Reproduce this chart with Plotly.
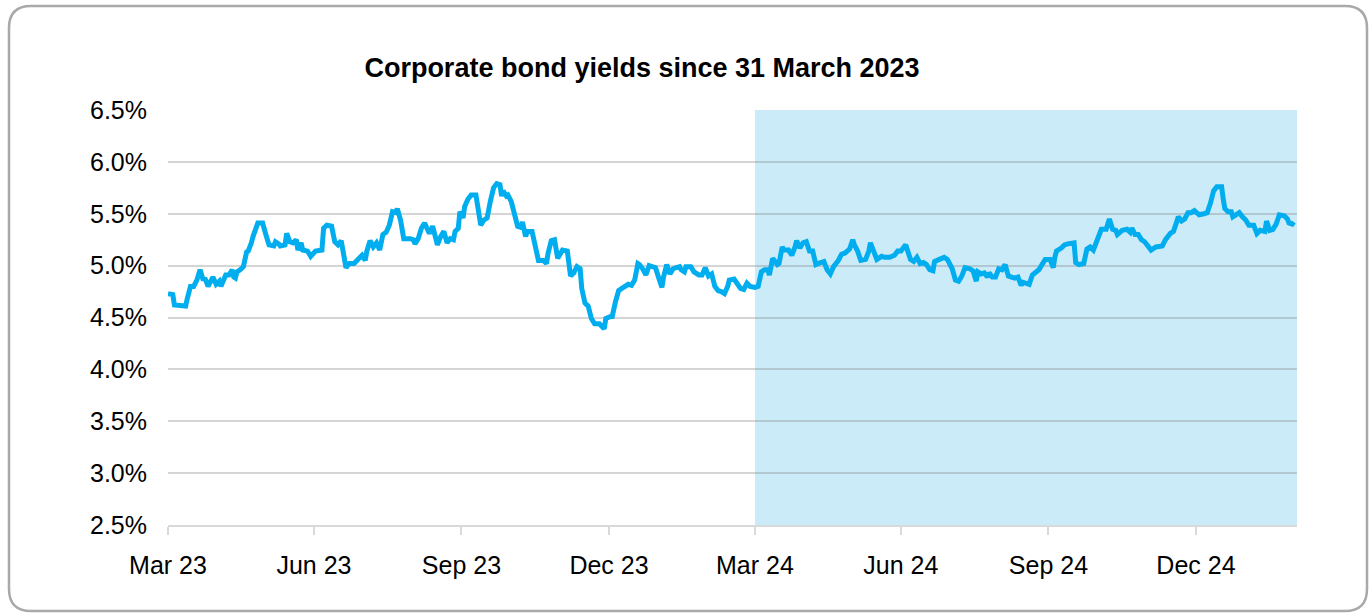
import pandas as pd
import plotly.graph_objects as go

# ---------------- data ----------------
start_date = "2023-03-31"

# days after 31 March 2023
days = [
    0, 3, 4, 11, 12, 14, 16, 18, 20, 22, 23, 25, 28, 30, 32, 33, 36, 38, 40, 41,
    42, 43, 45, 47, 49, 50, 52, 53, 56, 59, 61, 63, 66, 67, 69, 70, 73, 74, 76, 78,
    80, 81, 83, 84, 87, 89, 92, 96, 97, 99, 102, 104, 106, 108, 111, 113, 116, 118, 120,
    121, 123, 124, 126, 128, 130, 132, 134, 136, 138, 140, 142, 143, 145, 147, 151, 153, 154, 156, 158,
    160, 163, 165, 167, 168, 170, 172, 174, 176, 178, 179, 181, 182, 184, 185, 187, 189, 192, 194, 195,
    197, 199, 201, 203, 205, 207, 208, 209, 211, 212, 214, 216, 218, 220, 221, 223, 224, 227, 229, 230,
    231, 234, 236, 237, 239, 241, 243, 246, 249, 251, 253, 255, 257, 258, 260, 262, 264, 266, 269, 272,
    273, 276, 277, 279, 281, 283, 285, 287, 289, 291, 293, 294, 296, 298, 300, 302, 304, 306, 308, 309,
    311, 313, 315, 317, 319, 320, 322, 323, 326, 328, 331, 333, 335, 337, 339, 341, 343, 345, 347, 349,
    350, 353, 355, 357, 359, 361, 363, 366, 368, 370, 372, 374, 375, 377, 380, 381, 383, 384, 387, 389,
    391, 392, 394, 396, 398, 400, 402, 404, 407, 409, 411, 413, 415, 418, 420, 422, 425, 427, 428, 430,
    432, 435, 437, 438, 440, 442, 445, 447, 450, 453, 455, 457, 460, 461, 463, 465, 467, 469, 471, 473,
    475, 477, 478, 481, 484, 486, 489, 491, 493, 495, 497, 500, 502, 504, 505, 507, 509, 511, 512, 514,
    516, 518, 520, 522, 524, 526, 528, 530, 532, 533, 536, 537, 539, 541, 543, 545, 547, 550, 552, 553,
    554, 557, 559, 561, 563, 565, 566, 568, 571, 573, 575, 577, 579, 581, 582, 585, 587, 589, 591, 592,
    595, 598, 600, 601, 603, 605, 607, 609, 611, 613, 616, 618, 620, 622, 625, 627, 629, 630, 632, 634,
    636, 638, 640, 641, 643, 646, 648, 650, 652, 654, 657, 658, 659, 661, 663, 664, 666, 668, 670, 672,
    674, 677, 679, 681, 684, 685, 687, 689, 691, 693, 696, 698, 699, 701, 702,
]

# corporate bond yield, %
yields = [
    4.73, 4.72, 4.62, 4.61, 4.68, 4.80, 4.80, 4.86, 4.96, 4.86, 4.88, 4.80, 4.89, 4.82, 4.85, 4.80, 4.91, 4.91, 4.96, 4.89,
    4.88, 4.94, 4.96, 4.99, 5.13, 5.14, 5.22, 5.28, 5.41, 5.41, 5.30, 5.20, 5.19, 5.23, 5.21, 5.19, 5.20, 5.31, 5.23, 5.22,
    5.25, 5.15, 5.22, 5.15, 5.14, 5.09, 5.14, 5.15, 5.36, 5.39, 5.38, 5.23, 5.20, 5.24, 4.98, 5.02, 5.02, 5.05, 5.08,
    5.10, 5.05, 5.14, 5.24, 5.18, 5.22, 5.15, 5.30, 5.32, 5.39, 5.52, 5.51, 5.55, 5.44, 5.26, 5.26, 5.25, 5.21, 5.26, 5.36,
    5.41, 5.31, 5.38, 5.26, 5.20, 5.28, 5.33, 5.22, 5.26, 5.25, 5.33, 5.36, 5.52, 5.46, 5.57, 5.64, 5.68, 5.68, 5.51, 5.39,
    5.44, 5.46, 5.62, 5.75, 5.79, 5.78, 5.67, 5.72, 5.67, 5.68, 5.62, 5.51, 5.38, 5.37, 5.42, 5.28, 5.33, 5.33, 5.18, 5.10,
    5.05, 5.05, 5.02, 5.12, 5.24, 5.25, 5.07, 5.15, 5.14, 4.90, 4.93, 4.99, 4.97, 4.78, 4.64, 4.61, 4.49, 4.44, 4.44, 4.39,
    4.49, 4.51, 4.51, 4.65, 4.76, 4.78, 4.80, 4.82, 4.81, 4.86, 5.02, 5.01, 4.97, 4.91, 5.00, 4.99, 4.98, 4.88, 4.79, 4.89,
    5.01, 4.92, 4.97, 4.98, 4.99, 4.96, 4.94, 4.99, 4.99, 4.94, 4.91, 4.91, 4.98, 4.90, 4.92, 4.80, 4.76, 4.75, 4.73, 4.80,
    4.86, 4.87, 4.83, 4.78, 4.77, 4.83, 4.80, 4.79, 4.80, 4.94, 4.96, 4.96, 4.91, 5.07, 5.01, 5.02, 5.18, 5.15, 5.15, 5.10,
    5.18, 5.24, 5.17, 5.22, 5.23, 5.14, 5.14, 5.01, 5.03, 5.04, 4.96, 4.92, 4.99, 5.05, 5.11, 5.12, 5.16, 5.25, 5.20, 5.14,
    5.05, 5.06, 5.14, 5.22, 5.14, 5.06, 5.09, 5.08, 5.08, 5.10, 5.14, 5.14, 5.20, 5.14, 5.06, 5.04, 5.08, 5.02, 5.03, 5.01,
    4.96, 4.95, 5.04, 5.06, 5.08, 5.06, 4.97, 4.86, 4.85, 4.90, 4.98, 4.97, 4.95, 4.85, 4.94, 4.92, 4.93, 4.89, 4.93, 4.89,
    4.89, 4.97, 4.96, 5.01, 4.90, 4.89, 4.88, 4.89, 4.81, 4.84, 4.83, 4.82, 4.91, 4.94, 4.96, 5.01, 5.06, 5.06, 4.98, 5.08,
    5.14, 5.17, 5.20, 5.21, 5.22, 5.22, 5.03, 5.01, 5.02, 5.16, 5.18, 5.15, 5.23, 5.31, 5.35, 5.35, 5.45, 5.35, 5.34, 5.30,
    5.34, 5.35, 5.32, 5.36, 5.30, 5.30, 5.25, 5.23, 5.18, 5.15, 5.18, 5.19, 5.19, 5.25, 5.31, 5.33, 5.41, 5.47, 5.43, 5.45,
    5.51, 5.51, 5.53, 5.51, 5.49, 5.50, 5.51, 5.60, 5.72, 5.76, 5.76, 5.64, 5.55, 5.52, 5.52, 5.47, 5.49, 5.51, 5.47, 5.44,
    5.39, 5.39, 5.31, 5.34, 5.33, 5.43, 5.34, 5.35, 5.40, 5.49, 5.48, 5.45, 5.41, 5.40, 5.42,
]

tick_dates = ["2023-03-31", "2023-06-30", "2023-09-30", "2023-12-31",
              "2024-03-31", "2024-06-30", "2024-09-30", "2024-12-31"]
tick_labels = ["Mar 23", "Jun 23", "Sep 23", "Dec 23",
               "Mar 24", "Jun 24", "Sep 24", "Dec 24"]
y_ticks = [2.5, 3.0, 3.5, 4.0, 4.5, 5.0, 5.5, 6.0, 6.5]
y_labels = ["2.5%", "3.0%", "3.5%", "4.0%", "4.5%", "5.0%", "5.5%", "6.0%", "6.5%"]

shade_start = "2024-03-31"
range_end = "2025-03-04"
title_text = "Corporate bond yields since 31 March 2023"

# ---------------- figure ----------------
W, H = 1372, 614
L, R, T, B = 168, 75, 110, 89
PW, PH = W - L - R, H - T - B


def px(x):
    return (x - L) / PW


def py(y):
    return (H - B - y) / PH


dates = pd.Timestamp(start_date) + pd.to_timedelta(days, unit="D")

fig = go.Figure()
fig.add_trace(go.Scatter(
    x=dates, y=yields, mode="lines",
    line=dict(color="#00ADEE", width=5),
    hoverinfo="skip", showlegend=False,
))

# shaded period from March 2024
fig.add_shape(type="rect", xref="x", yref="y",
              x0=shade_start, x1=range_end, y0=2.5, y1=6.5,
              fillcolor="#CCEBF8", line=dict(width=0), layer="below")

# rounded frame around the chart
x0, x1, y0, y1, r = 9, 1367, 6, 611, 22
path = (
    f"M {px(x0 + r)} {py(y0)} L {px(x1 - r)} {py(y0)} "
    f"Q {px(x1)} {py(y0)} {px(x1)} {py(y0 + r)} "
    f"L {px(x1)} {py(y1 - r)} "
    f"Q {px(x1)} {py(y1)} {px(x1 - r)} {py(y1)} "
    f"L {px(x0 + r)} {py(y1)} "
    f"Q {px(x0)} {py(y1)} {px(x0)} {py(y1 - r)} "
    f"L {px(x0)} {py(y0 + r)} "
    f"Q {px(x0)} {py(y0)} {px(x0 + r)} {py(y0)} Z"
)
fig.add_shape(type="path", xref="paper", yref="paper", path=path,
              line=dict(color="#A9A9A9", width=2.5), fillcolor="rgba(0,0,0,0)",
              layer="above")

font_family = "Liberation Sans, Arial, Helvetica, sans-serif"

fig.update_layout(
    width=W, height=H,
    margin=dict(l=L, r=R, t=T, b=B, pad=0),
    paper_bgcolor="white", plot_bgcolor="white",
    font=dict(family=font_family, size=25, color="#000000"),
    title=dict(text=title_text, x=642 / W, y=1 - 68 / H,
               xanchor="center", yanchor="middle", xref="container", yref="container",
               font=dict(family=font_family, size=27, color="#000000", weight="bold")),
    xaxis=dict(
        type="date", range=[start_date, range_end],
        tickvals=tick_dates, ticktext=tick_labels,
        showgrid=False, zeroline=False,
        showline=True, linecolor="#D9D9D9", linewidth=1.5,
        ticks="outside", ticklen=8, tickwidth=1.5, tickcolor="#D9D9D9",
        ticklabelstandoff=9,
        tickfont=dict(size=25),
    ),
    yaxis=dict(
        range=[2.5, 6.5], tickvals=y_ticks, ticktext=y_labels,
        showgrid=True, gridcolor="rgba(128,128,128,0.33)", gridwidth=1.5,
        zeroline=False, showline=False, ticks="",
        ticklabelstandoff=20,
        tickfont=dict(size=25),
    ),
)

fig.write_html("out.html")
